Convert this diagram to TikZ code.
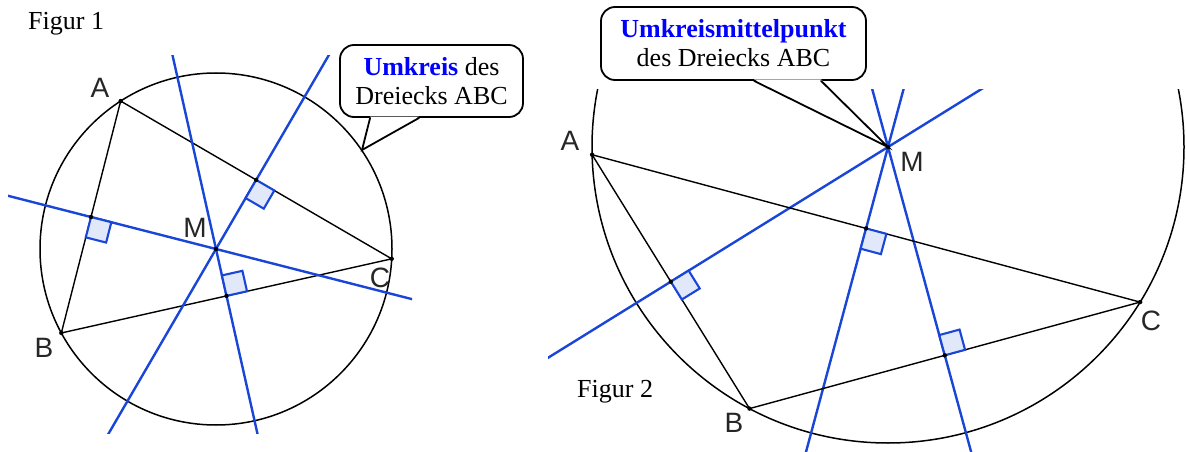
\documentclass[tikz,border=0pt]{standalone}
\usepackage{fontspec}
\setmainfont{Liberation Serif}
\setsansfont{Liberation Sans}
\usetikzlibrary{calc, positioning}

\definecolor{mittelblau}{RGB}{25,70,215}
\definecolor{winkelfill}{RGB}{225,232,250}
\definecolor{textblau}{RGB}{0,0,255}

% rechter Winkel: Fusspunkt, Richtung Seite, Richtung Mittelsenkrechte, Laenge
\newcommand{\rwinkel}[4]{%
    \coordinate (wu) at ($(#1)!21pt!(#2)$);
    \coordinate (wv) at ($(#1)!#4!(#3)$);
    \filldraw[winkel] (#1) -- (wu) -- ($(wu)+(wv)-(#1)$) -- (wv) -- cycle;
}

\begin{document}
\begin{tikzpicture}[x=1pt, y=-1pt,
    seite/.style={black, line width=1.4pt},
    kreis/.style={black, line width=1.5pt},
    mittel/.style={mittelblau, line width=2.4pt},
    winkel/.style={draw=mittelblau, fill=winkelfill, line width=2.1pt, line join=miter},
    punkt/.style={black!85, font=\fontsize{28}{30}\selectfont\sffamily, inner sep=0pt},
    blase/.style={draw, line width=1.8pt, rounded corners=14pt, fill=white, align=center, inner sep=0pt, font=\fontsize{26}{29}\selectfont},
    zipfel/.style={line width=1.8pt, line cap=round, line join=miter},
    titel/.style={font=\fontsize{26}{29}\selectfont, inner sep=0pt, anchor=base west}]
    \useasboundingbox (0,0) rectangle (1187,452);

    % Figur 1
    \coordinate (M1) at (216,249);
    \coordinate (A1) at ($(M1)+(237.2:176)$);
    \coordinate (B1) at ($(M1)+(151.5:176)$);
    \coordinate (C1) at ($(M1)+(3.2:176)$);
    \coordinate (mAB1) at ($(A1)!0.5!(B1)$);
    \coordinate (mAC1) at ($(A1)!0.5!(C1)$);
    \coordinate (mBC1) at ($(B1)!0.5!(C1)$);

    \node[titel] (fig1) at (28,30) {Figur 1};

    \draw[kreis] (M1) circle[radius=176pt];
    \draw[seite] (A1) -- (B1) -- (C1) -- cycle;
    \begin{scope}
        \clip (8,56) rectangle (412,433);
        \foreach \m in {mAB1, mAC1, mBC1}
            \draw[mittel] ($(M1)!-8!(\m)$) -- ($(M1)!8!(\m)$);
    \end{scope}
    \rwinkel{mAB1}{B1}{M1}{21pt}
    \rwinkel{mAC1}{C1}{M1}{21pt}
    \rwinkel{mBC1}{C1}{M1}{21pt}
    \foreach \p in {A1, B1, C1, M1, mAB1, mAC1, mBC1}
        \fill (\p) circle (2.2pt);

    \node[punkt] (lA1) at (100,88) {A};
    \node[punkt] (lB1) at (44,348) {B};
    \node[punkt] (lC1) at (380,278) {C};
    \node[punkt] (lM1) at (195,228) {M};

    \node[blase, minimum width=183pt, minimum height=72pt] (box1) at (431.5,81)
        {\textcolor{textblau}{\textbf{Umkreis}} des\\Dreiecks ABC};
    \coordinate (spitze1) at (362,150);
    \coordinate (z1a) at ($(box1.south west)+(31,0)$);
    \coordinate (z1b) at ($(box1.south west)+(80,0)$);
    \fill[white] ($(z1a)+(0,-1.4)$) -- (spitze1) -- ($(z1b)+(0,-1.4)$) -- cycle;
    \draw[zipfel] (z1a) -- (spitze1) -- (z1b);

    % Figur 2
    \coordinate (M2) at (888,147);
    \coordinate (A2) at ($(M2)+(178.5:296)$);
    \coordinate (B2) at ($(M2)+(117.9:296)$);
    \coordinate (C2) at ($(M2)+(31.6:296)$);
    \coordinate (mAB2) at ($(A2)!0.5!(B2)$);
    \coordinate (mAC2) at ($(A2)!0.5!(C2)$);
    \coordinate (mBC2) at ($(B2)!0.5!(C2)$);

    \node[titel] (fig2) at (577,397) {Figur 2};

    \begin{scope}
        \clip (548,90) rectangle (1187,452);
        \draw[kreis] (M2) circle[radius=296pt];
        \foreach \m in {mAB2, mAC2, mBC2}
            \draw[mittel] ($(M2)!-6!(\m)$) -- ($(M2)!6!(\m)$);
    \end{scope}
    \draw[seite] (A2) -- (B2) -- (C2) -- cycle;
    \rwinkel{mAB2}{B2}{M2}{21pt}
    \rwinkel{mAC2}{C2}{M2}{-21pt}
    \rwinkel{mBC2}{C2}{M2}{21pt}
    \foreach \p in {A2, B2, C2, M2, mAB2, mAC2, mBC2}
        \fill (\p) circle (2.2pt);

    \node[punkt] (lA2) at (570,141) {A};
    \node[punkt] (lB2) at (734,423) {B};
    \node[punkt] (lC2) at (1151,321) {C};
    \node[punkt] (lM2) at (912,162) {M};

    \node[blase, minimum width=265pt, minimum height=73pt] (box2) at (733.5,43.5)
        {\textcolor{textblau}{\textbf{Umkreismittelpunkt}}\\des Dreiecks ABC};
    \coordinate (z2a) at ($(box2.south west)+(154,0)$);
    \coordinate (z2b) at ($(box2.south west)+(221,0)$);
    \fill[white] ($(z2a)+(0,-1.4)$) -- (M2) -- ($(z2b)+(0,-1.4)$) -- cycle;
    \draw[zipfel] (z2a) -- (M2) -- (z2b);
\end{tikzpicture}
\end{document}
